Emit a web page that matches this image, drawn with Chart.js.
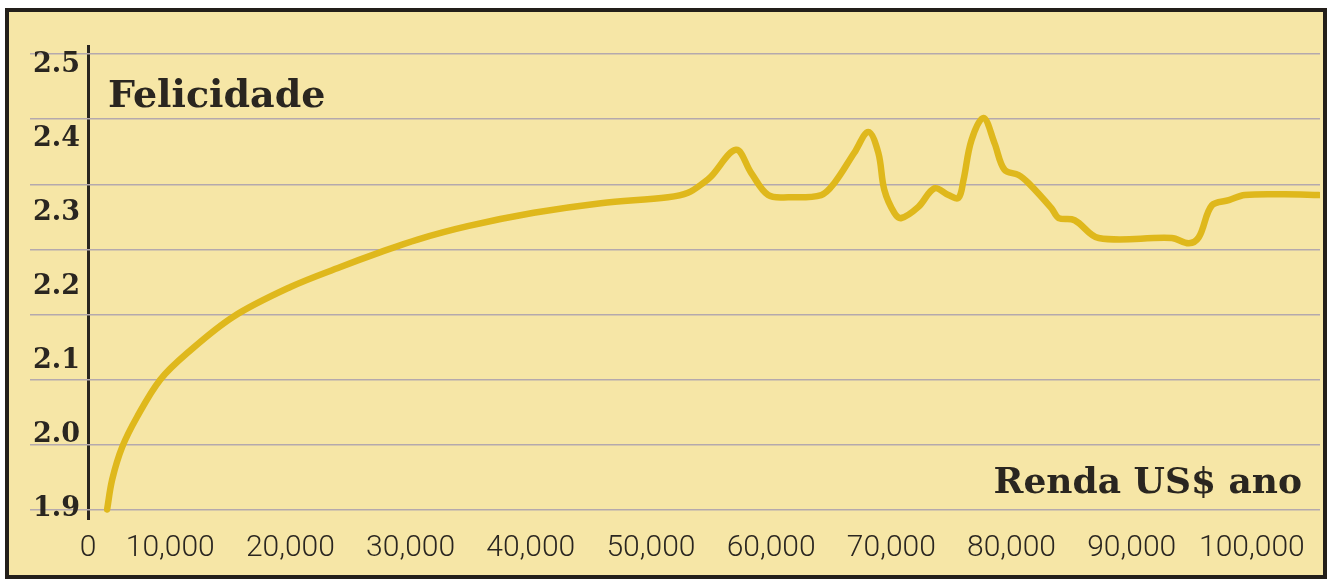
<!DOCTYPE html>
<html>
<head>
<meta charset="utf-8">
<script src="https://cdn.jsdelivr.net/npm/chart.js@4/dist/chart.umd.min.js"></script>
<style>
  body { margin: 0; background: #ffffff; }
  #frame {
    position: absolute; left: 5px; top: 8px;
    width: 1314px; height: 563px;
    border: 4px solid #231f1a;
    background: #f6e6a6;
  }
  #chart { position: absolute; left: 0; top: 0; }
</style>
</head>
<body>
<div id="frame"></div>
<canvas id="chart" width="1332" height="582"></canvas>
<script>
// Dados (renda anual em US$ x felicidade)
const rendaX = [4750, 5167, 6000, 7250, 9167, 11417, 15250, 20000, 24167, 27500, 30583, 34750,
  40250, 45833, 51417, 53083, 54417, 55000, 57083, 58333, 59750, 61417, 64167, 65250, 66917,
  68083, 68917, 69417, 70250, 70833, 72250, 73583, 74750, 75583, 76000, 76667, 77667, 78583,
  79417, 80583, 81417, 83333, 83917, 85250, 87250, 93333, 94750, 95583, 96667, 98083, 99417,
  102750, 105583];
const felicidadeY = [1.900, 1.940, 1.984, 2.025, 2.075, 2.111, 2.160, 2.200, 2.227, 2.247, 2.264, 2.282,
  2.300, 2.313, 2.321, 2.327, 2.341, 2.349, 2.385, 2.354, 2.324, 2.321, 2.324, 2.340, 2.381,
  2.409, 2.381, 2.331, 2.300, 2.293, 2.308, 2.333, 2.324, 2.320, 2.344, 2.398, 2.428, 2.394,
  2.358, 2.351, 2.340, 2.306, 2.293, 2.290, 2.266, 2.266, 2.259, 2.267, 2.310, 2.317, 2.324,
  2.325, 2.324];

// Rótulos dos eixos
const yTicks = [1.9, 2.0, 2.1, 2.2, 2.3, 2.4, 2.5];
const xTicks = [10000, 20000, 30000, 40000, 50000, 60000, 70000, 80000, 90000, 100000];
const xOrigin = 3167; // onde fica o "0" (linha vertical do eixo)
const paperLines = [0, 1, 2, 3, 4, 5, 6, 7]; // linhas do papel

const INK = '#2a2620';

// Textos "Felicidade" e "Renda US$ ano"
const axisTitles = {
  id: 'axisTitles',
  afterDraw(chart) {
    const ctx = chart.ctx;
    const area = chart.chartArea;
    ctx.save();
    ctx.fillStyle = INK;
    ctx.textBaseline = 'alphabetic';
    ctx.textAlign = 'left';
    ctx.font = 'bold 38px "DejaVu Serif"';
    ctx.fillText('Felicidade', area.left + 78, area.top + 62);
    ctx.textAlign = 'right';
    ctx.font = 'bold 36px "DejaVu Serif"';
    ctx.fillText('Renda US$ ano', area.right - 18, area.bottom - 27);
    ctx.restore();
  }
};

const ctx = document.getElementById('chart').getContext('2d');
new Chart(ctx, {
  type: 'line',
  data: {
    datasets: [{
      data: rendaX.map((x, i) => ({ x: x, y: felicidadeY[i] })),
      borderColor: '#dfb81c',
      borderWidth: 6.5,
      borderCapStyle: 'round',
      pointRadius: 0,
      tension: 0.35,
      fill: false
    }]
  },
  options: {
    responsive: false,
    animation: false,
    devicePixelRatio: 1,
    layout: { padding: { left: 30, right: 12, top: 45, bottom: 17 } },
    scales: {
      x: {
        type: 'linear',
        min: -1667,
        max: 105667,
        afterFit: s => { s.height = 45; s.paddingLeft = 0; s.paddingRight = 0; },
        afterBuildTicks: s => { s.ticks = [xOrigin, ...xTicks].map(v => ({ value: v })); },
        ticks: {
          autoSkip: false,
          maxRotation: 0,
          padding: 10,
          color: INK,
          font: { family: 'Roboto', weight: 300, size: 30 },
          callback: v => v === xOrigin ? '0' : v.toLocaleString('en-US')
        },
        grid: {
          drawTicks: false,
          color: c => (c.tick && c.tick.value === xOrigin) ? INK : 'rgba(0,0,0,0)',
          lineWidth: 3
        },
        border: { display: false }
      },
      y: {
        type: 'linear',
        min: 1.8858,
        max: 2.5263,
        afterFit: s => { s.width = 0; s.paddingTop = 0; s.paddingBottom = 0; },
        afterBuildTicks: s => { s.ticks = yTicks.map(v => ({ value: v })); },
        ticks: {
          mirror: true,
          padding: 3,
          color: INK,
          font: { family: 'DejaVu Serif', weight: 'bold', size: 27 },
          callback: v => v.toFixed(1)
        },
        grid: { display: false },
        border: { display: false }
      },
      paper: {
        type: 'linear',
        position: 'right',
        min: -0.1535,
        max: 7.138,
        afterFit: s => { s.width = 0; },
        afterBuildTicks: s => { s.ticks = paperLines.map(v => ({ value: v })); },
        ticks: { display: false },
        grid: { drawTicks: false, color: '#b4a9ad', lineWidth: 1.5 },
        border: { display: false }
      }
    },
    plugins: {
      legend: { display: false },
      tooltip: { enabled: false }
    }
  },
  plugins: [axisTitles]
});
</script>
</body>
</html>
